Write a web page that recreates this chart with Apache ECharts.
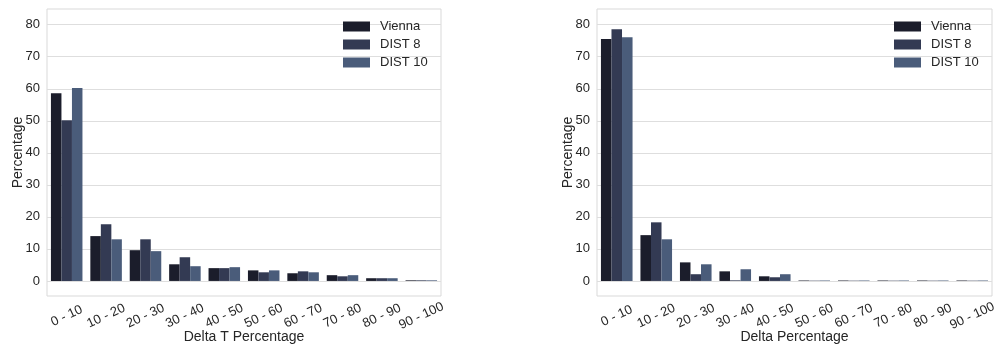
<!DOCTYPE html>
<html>
<head>
<meta charset="utf-8">
<script src="https://cdn.jsdelivr.net/npm/echarts@6/dist/echarts.min.js"></script>
<style>
html,body{margin:0;padding:0;background:#fff;}
#chart{width:995px;height:347px;}
</style>
</head>
<body>
<div id="chart"></div>
<script>
const categories = ['0 - 10','10 - 20','20 - 30','30 - 40','40 - 50','50 - 60','60 - 70','70 - 80','80 - 90','90 - 100'];
const seriesNames = ['Vienna','DIST 8','DIST 10'];
const yTicks = [0,10,20,30,40,50,60,70,80];
const xTitleLeft = 'Delta T Percentage';
const xTitleRight = 'Delta Percentage';
const yTitle = 'Percentage';

// Left panel: Delta T Percentage
const leftVienna = [58.6, 14.0, 9.6, 5.2, 4.0, 3.3, 2.4, 1.8, 0.85, 0.2];
const leftDist8  = [50.2, 17.7, 13.0, 7.4, 4.0, 2.7, 3.0, 1.45, 0.85, 0.2];
const leftDist10 = [60.2, 13.0, 9.3, 4.6, 4.3, 3.3, 2.7, 1.8, 0.85, 0.2];

// Right panel: Delta Percentage
const rightVienna = [75.5, 14.3, 5.8, 3.0, 1.45, 0.15, 0.15, 0.15, 0.15, 0.15];
const rightDist8  = [78.6, 18.3, 2.1, 0.2, 1.15, 0.1, 0.1, 0.1, 0.1, 0.1];
const rightDist10 = [76.1, 13.0, 5.2, 3.65, 2.1, 0.15, 0.15, 0.15, 0.15, 0.15];

const colors = ['#1b1d2b', '#333a53', '#4a5c7a'];
const FONT = 'Liberation Sans, Arial, sans-serif';
const TXT = '#262626';

function xAxisCfg(idx, title) {
  return {
    type: 'category', gridIndex: idx, data: categories,
    boundaryGap: true,
    axisLine: {show: false}, axisTick: {show: false},
    axisLabel: {rotate: 25, align: 'center', verticalAlign: 'middle', margin: 20,
      fontFamily: FONT, fontSize: 13, color: TXT, interval: 0},
    name: title, nameLocation: 'middle', nameGap: 34, nameMoveOverlap: false,
    nameTextStyle: {fontFamily: FONT, fontSize: 14, color: TXT}
  };
}
function yAxisCfg(idx) {
  return {
    type: 'value', gridIndex: idx, min: -4.7, max: 84.9,
    axisLine: {show: false},
    axisTick: {show: false, customValues: yTicks},
    axisLabel: {customValues: yTicks, fontFamily: FONT, fontSize: 13, color: TXT, margin: 7},
    splitLine: {show: true, lineStyle: {color: '#dedede', width: 1}},
    name: yTitle, nameLocation: 'middle', nameGap: 22, nameMoveOverlap: false,
    nameTextStyle: {fontFamily: FONT, fontSize: 14, color: TXT}
  };
}
function bar(name, data, idx, color) {
  return {
    type: 'bar', name: name, data: data, xAxisIndex: idx, yAxisIndex: idx,
    barGap: '0%', barCategoryGap: '20%',
    itemStyle: {color: color}, silent: true, animation: false
  };
}
function legendCfg(left) {
  return {
    orient: 'vertical', left: left, top: 15,
    itemWidth: 27, itemHeight: 10, itemGap: 5,
    icon: 'rect',
    textStyle: {fontFamily: FONT, fontSize: 13, color: TXT, padding: [0,0,0,5]},
    data: seriesNames
  };
}

const chart = echarts.init(document.getElementById('chart'), null, {renderer: 'canvas'});
chart.setOption({
  animation: false,
  color: colors,
  grid: [
    {left: 47, right: 554, top: 9, bottom: 51, show: true, borderColor: '#d9d9d9', borderWidth: 1, backgroundColor: '#fff', outerBoundsMode: 'none', containLabel: false},
    {left: 597, right: 3, top: 9, bottom: 51, show: true, borderColor: '#d9d9d9', borderWidth: 1, backgroundColor: '#fff', outerBoundsMode: 'none', containLabel: false}
  ],
  legend: [ legendCfg(338), legendCfg(889) ],
  xAxis: [xAxisCfg(0, xTitleLeft), xAxisCfg(1, xTitleRight)],
  yAxis: [yAxisCfg(0), yAxisCfg(1)],
  series: [
    bar(seriesNames[0], leftVienna, 0, colors[0]),
    bar(seriesNames[1], leftDist8, 0, colors[1]),
    bar(seriesNames[2], leftDist10, 0, colors[2]),
    bar(seriesNames[0], rightVienna, 1, colors[0]),
    bar(seriesNames[1], rightDist8, 1, colors[1]),
    bar(seriesNames[2], rightDist10, 1, colors[2])
  ]
});
</script>
</body>
</html>
